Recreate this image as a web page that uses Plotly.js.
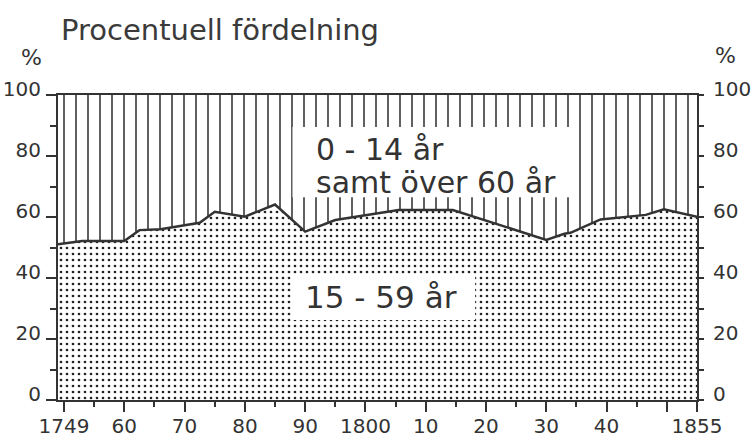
<!DOCTYPE html>
<html>
<head>
<meta charset="utf-8">
<script src="https://cdn.plot.ly/plotly-3.0.1.min.js"></script>
<style>html,body{margin:0;padding:0;background:#fff}#chart{width:751px;height:437px}</style>
</head>
<body>
<div id="chart"></div>
<script>
// Share of population aged 15-59 (percent)
const years = [1749, 1753, 1760, 1762.5, 1766, 1772.5, 1775, 1780, 1785, 1790, 1795, 1800.5, 1805.5, 1814.5, 1830, 1833, 1834, 1839, 1846.5, 1849.5, 1855];
const working = [51.1, 52.1, 52.1, 55.7, 56.0, 58.1, 61.7, 60.1, 64.1, 55.2, 59.0, 60.7, 62.3, 62.3, 52.5, 54.5, 54.8, 59.2, 60.7, 62.5, 60.1];
// remaining share: 0-14 and over 60
const others = working.map(v => 100 - v);

const xTickVals = [1750, 1760, 1770, 1780, 1790, 1800, 1810, 1820, 1830, 1840, 1850, 1855];
const xTickText = ['1749', '60', '70', '80', '90', '1800', '10', '20', '30', '40', '', '1855'];
const xMinor = [1755, 1765, 1775, 1785, 1795, 1805, 1815, 1825, 1835, 1845];
const yTickVals = [0, 20, 40, 60, 80, 100];
const yTickText = ['0', '20', '40', '60', '80', '100'];

const ink = '#333333';
const font = 'DejaVu Sans, sans-serif';

const traces = [
  {
    x: years, y: working, type: 'scatter', mode: 'lines', stackgroup: 'a',
    line: {color: ink, width: 2.5},
    fillcolor: 'white',
    fillpattern: {shape: '.', size: 6, solidity: 0.16, fgcolor: '#222', bgcolor: 'white', fillmode: 'replace'},
    hoverinfo: 'skip', showlegend: false
  },
  {
    x: years, y: others, type: 'scatter', mode: 'lines', stackgroup: 'a',
    line: {color: ink, width: 0},
    fillcolor: 'white',
    fillpattern: {shape: '|', size: 12, solidity: 0.13, fgcolor: '#333', bgcolor: 'white', fillmode: 'replace'},
    hoverinfo: 'skip', showlegend: false
  },
  {
    x: [1749, 1855], y: [null, null], yaxis: 'y2', type: 'scatter', mode: 'lines',
    hoverinfo: 'skip', showlegend: false
  }
];

const layout = {
  width: 751, height: 437,
  margin: {l: 58, r: 54, t: 95, b: 37},
  paper_bgcolor: 'white', plot_bgcolor: 'white',
  font: {family: font, color: ink},
  title: {
    text: 'Procentuell fördelning',
    font: {family: font, size: 29, color: '#3a3a3a'},
    x: 61 / 751, xanchor: 'left', xref: 'container',
    y: 1 - 30 / 437, yanchor: 'middle', yref: 'container'
  },
  xaxis: {
    range: [1749, 1855], showgrid: false, zeroline: false,
    showline: true, linecolor: ink, linewidth: 2, mirror: true,
    ticks: 'outside', ticklen: 10, tickwidth: 2, tickcolor: ink,
    tickvals: xTickVals, ticktext: xTickText,
    tickfont: {family: font, size: 20, color: ink},
    ticklabelstandoff: -3,
    minor: {tickvals: xMinor, ticks: 'outside', ticklen: 5, tickwidth: 2, tickcolor: ink}
  },
  yaxis: {
    range: [0, 100], showgrid: false, zeroline: false,
    showline: true, linecolor: ink, linewidth: 2,
    ticks: 'outside', ticklen: 10, tickwidth: 2, tickcolor: ink,
    tickvals: yTickVals, ticktext: yTickText,
    tickfont: {family: font, size: 20, color: ink},
    ticklabelshift: -6, ticklabelstandoff: 1,
    minor: {dtick: 10, ticks: 'outside', ticklen: 6, tickwidth: 2, tickcolor: ink}
  },
  yaxis2: {
    range: [0, 100], overlaying: 'y', side: 'right', showgrid: false, zeroline: false,
    showline: true, linecolor: ink, linewidth: 2,
    ticks: 'outside', ticklen: 5, tickwidth: 2, tickcolor: ink,
    tickvals: yTickVals, ticktext: yTickText,
    tickfont: {family: font, size: 20, color: ink},
    ticklabelshift: -6, ticklabelstandoff: 5,
    minor: {dtick: 10, ticks: 'outside', ticklen: 5, tickwidth: 2, tickcolor: ink}
  },
  shapes: [
    {type: 'rect', xref: 'x', yref: 'y', x0: 1787.9, x1: 1834.2, y0: 66.5, y1: 89.5,
     fillcolor: 'white', line: {width: 0}, layer: 'above'},
    {type: 'rect', xref: 'x', yref: 'y', x0: 1787.7, x1: 1818.2, y0: 26.2, y1: 41,
     fillcolor: 'white', line: {width: 0}, layer: 'above'}
  ],
  annotations: [
    {
      text: '0 - 14 år', xref: 'x', yref: 'y', x: 1791.5, y: 82,
      xanchor: 'left', yanchor: 'middle', showarrow: false,
      font: {family: font, size: 30, color: ink}
    },
    {
      text: 'samt över 60 år', xref: 'x', yref: 'y', x: 1791.5, y: 71.2,
      xanchor: 'left', yanchor: 'middle', showarrow: false,
      font: {family: font, size: 30, color: ink}
    },
    {
      text: '15 - 59 år', xref: 'x', yref: 'y', x: 1802.6, y: 33.8,
      xanchor: 'center', yanchor: 'middle', showarrow: false,
      font: {family: font, size: 31, color: ink}
    },
    {
      text: '%', xref: 'paper', yref: 'paper', x: -27 / 639, y: (400 - 57) / 305,
      showarrow: false, xanchor: 'center', yanchor: 'middle',
      font: {family: font, size: 22, color: ink}
    },
    {
      text: '%', xref: 'paper', yref: 'paper', x: 1 + 28 / 639, y: (400 - 55) / 305,
      showarrow: false, xanchor: 'center', yanchor: 'middle',
      font: {family: font, size: 22, color: ink}
    }
  ]
};

Plotly.newPlot('chart', traces, layout, {displayModeBar: false, staticPlot: true});
</script>
</body>
</html>
